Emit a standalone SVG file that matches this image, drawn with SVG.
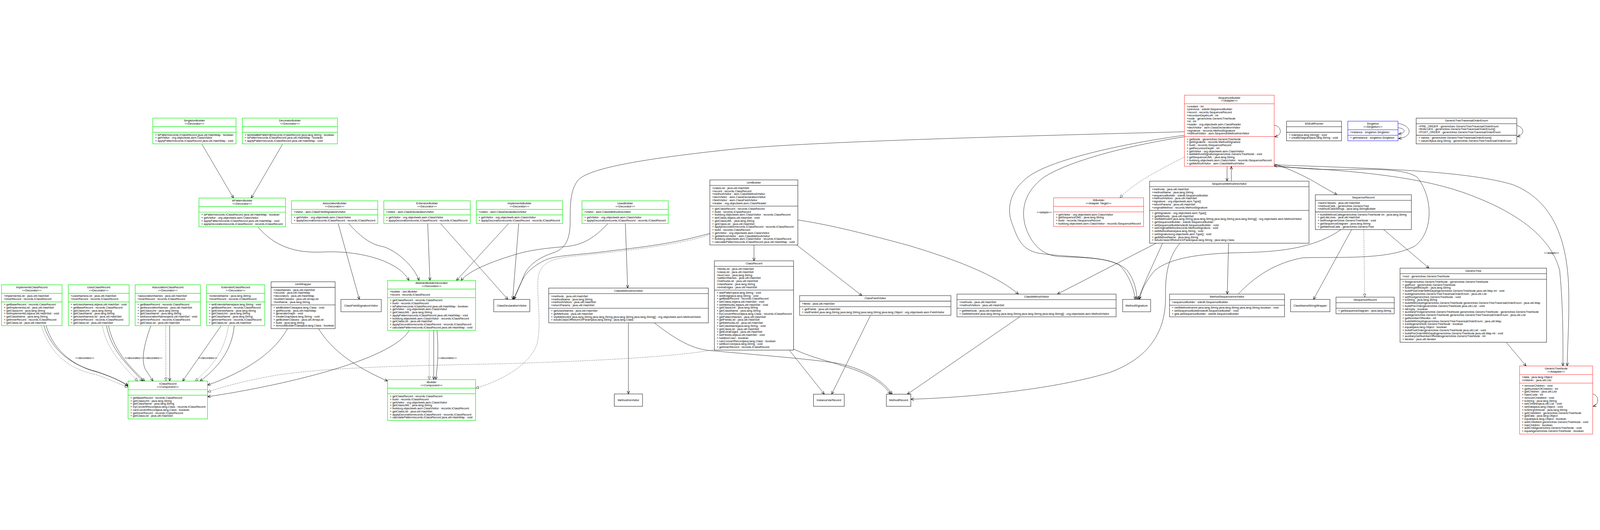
<svg xmlns="http://www.w3.org/2000/svg" width="6345" height="1357" viewBox="0 0 6345 1357">
<style>
svg{width:100vw;height:100vh}
.n rect{fill:#fff}
.g rect,.g line{stroke:#00ee00;stroke-width:1.8}
.r rect,.r line{stroke:#ff1a1a;stroke-width:1.4}
.b rect,.b line{stroke:#0000ff;stroke-width:1.4}
.k rect,.k line{stroke:#222;stroke-width:1.6}
text{font-family:"Liberation Sans",Arial,sans-serif;font-size:11.5px;fill:#000}
.c{text-anchor:middle}
#edges path{fill:none;stroke:#000;stroke-width:1.2}
#edges path.d{stroke-dasharray:3 4}
.lbl{font-size:11px}
</style>
<defs>
<marker id="vee" markerUnits="userSpaceOnUse" markerWidth="15" markerHeight="12" refX="13" refY="6" orient="auto"><path d="M1,1 L13,6 L1,11" fill="none" stroke="#000" stroke-width="1.6"/></marker>
<marker id="tri" markerUnits="userSpaceOnUse" markerWidth="15" markerHeight="12" refX="13" refY="6" orient="auto"><path d="M1,1 L13,6 L1,11 Z" fill="#fff" stroke="#000" stroke-width="1.1"/></marker>
</defs>
<rect x="0" y="0" width="6345" height="1357" fill="#fff"/>

<g id="edges">
<path marker-end="url(#vee)" d="M801,200 L926,413"/>
<path marker-end="url(#vee)" d="M1120,200 L996,413"/>
<path marker-end="url(#vee)" d="M1024,529 C1090,605 1170,632 1280,627 C1420,620 1580,660 1622,740"/>
<path marker-end="url(#vee)" d="M1341,514 L1425,815"/>
<path marker-end="url(#vee)" d="M1383,514 C1450,590 1490,600 1524,607 C1575,625 1640,680 1662,740"/>
<path marker-end="url(#vee)" d="M1696,514 L1705,740"/>
<path marker-end="url(#vee)" d="M1747,514 L2014,815"/>
<path marker-end="url(#vee)" d="M2017,514 L1810,740"/>
<path marker-end="url(#vee)" d="M2057,514 L2033,815"/>
<path marker-end="url(#vee)" d="M2411,514 C2350,580 2300,600 2247,605 C2160,612 2100,620 2050,635 C1950,665 1860,700 1828,740"/>
<path marker-end="url(#vee)" d="M2480,514 L2489,770"/>
<path marker-end="url(#vee)" d="M4697,150 C4000,168 3200,190 2900,220 C2600,252 2330,290 2290,345 C2258,390 2262,450 2261,513 C2260,580 2240,615 2194,630 C2120,655 2085,690 2070,740 L2036,815"/>
<path marker-end="url(#vee)" d="M2815,553 C2650,600 2500,612 2400,625 C2280,640 2200,640 2160,660 C2100,690 2080,720 2068,745 L2038,815"/>
<path class="d" marker-end="url(#tri)" d="M2815,557 C2700,600 2450,625 2290,642 C2180,652 2150,670 2135,720 C2125,800 2150,900 2130,990 C2100,1080 1980,1140 1886,1167"/>
<path marker-end="url(#vee)" d="M2990,599 L2990,662"/>
<path marker-end="url(#vee)" d="M3159,599 L3418,800"/>
<path marker-end="url(#vee)" d="M3164,500 C3300,520 3450,560 3600,600 C3800,660 3950,720 4039,794"/>
<path marker-end="url(#vee)" d="M3452,878 L3298,1191"/>
<path marker-end="url(#vee)" d="M3130,1016 L3269,1191"/>
<path class="d" marker-end="url(#tri)" d="M2833,1014 C2700,1040 2400,1058 2000,1070 C1600,1078 1300,1085 1100,1115 C950,1140 860,1170 823,1182"/>
<path marker-end="url(#vee)" d="M3147,1012 C3230,1050 3290,1060 3330,1075 C3420,1100 3495,1135 3531,1191"/>
<path marker-end="url(#vee)" d="M2595,908 C2700,990 2760,1015 2829,1019 C3000,1035 3200,1050 3320,1068 C3430,1090 3505,1140 3538,1191"/>
<path marker-end="url(#vee)" d="M2492,908 L2492,1190"/>
<path marker-end="url(#vee)" d="M4044,884 L3598,1191"/>
<path marker-end="url(#vee)" d="M4585,592 L4193,794"/>
<path marker-end="url(#vee)" d="M4679,592 C4640,640 4620,700 4622,800 C4625,950 4550,1050 4400,1105 C4150,1180 3800,1205 3612,1211"/>
<path marker-end="url(#vee)" d="M4610,592 C4590,640 4560,700 4535,760 L4514,815"/>
<path marker-end="url(#vee)" d="M5318,538 C5200,620 5050,627 4900,630 C4760,634 4640,650 4580,700 C4545,740 4525,780 4519,815"/>
<path marker-end="url(#vee)" d="M4697,164 C4500,190 4200,250 4090,320 C4000,380 3990,460 4016,520 C4040,590 4060,615 4110,630 C4220,650 4380,640 4440,680 C4480,720 4498,780 4502,815"/>
<path marker-end="url(#vee)" d="M4697,170 C4500,200 4250,260 4140,330 C4060,390 4050,460 4065,520 C4085,590 4130,640 4200,645 C4320,650 4420,650 4470,700 C4500,740 4507,780 4509,815"/>
<path class="d" marker-end="url(#tri)" d="M4697,250 C4600,300 4500,350 4441,412"/>
<path marker-end="url(#vee)" d="M4866,287 L4866,346"/>
<path marker-end="url(#vee)" d="M4883,346 L4883,287"/>
<path marker-end="url(#vee)" d="M4872,592 L4867,794"/>
<path marker-end="url(#vee)" d="M5053,277 C5120,300 5184,330 5240,365 L5302,400"/>
<path marker-end="url(#vee)" d="M4910,794 C4980,720 5060,670 5165,650 C5300,645 5500,660 5606,606 C5680,560 5690,420 5620,330 C5560,290 5400,300 5280,300 C5200,300 5100,290 5053,284"/>
<path marker-end="url(#vee)" d="M5053,288 C5300,300 5600,320 5800,390 C6000,460 6150,560 6185,700 C6200,850 6198,1000 6198,1079"/>
<path marker-end="url(#vee)" d="M5053,281 C5400,295 5800,300 6000,360 C6150,420 6210,560 6220,750 C6225,900 6215,1000 6215,1079"/>
<path marker-end="url(#vee)" d="M5487,538 L5667,691"/>
<path class="d" marker-end="url(#tri)" d="M5408,538 L5412,806"/>
<path marker-end="url(#vee)" d="M5360,538 L5209,815"/>
<path marker-end="url(#vee)" d="M5973,985 L6052,1079"/>
<path marker-end="url(#vee)" d="M5053,124 C5080,128 5090,162 5055,170"/>
<path marker-end="url(#vee)" d="M5544,117 C5600,125 5605,170 5546,177"/>
<path marker-end="url(#vee)" d="M5544,134 C5575,137 5578,156 5546,159"/>
<path marker-end="url(#vee)" d="M6015,125 C6045,132 6048,162 6017,169"/>
<path marker-end="url(#vee)" d="M6316,1190 C6342,1195 6343,1232 6318,1239"/>
<path class="d" marker-end="url(#tri)" d="M163,919 C200,1030 270,1090 380,1113 C430,1130 470,1150 508,1163"/>
<path marker-end="url(#vee)" d="M174,919 C210,1030 300,1080 380,1100 C440,1120 480,1140 508,1156"/>
<path marker-end="url(#vee)" d="M183,919 C215,1030 310,1085 385,1103 C445,1122 485,1142 508,1159"/>
<path class="d" marker-end="url(#tri)" d="M406,919 C420,1000 470,1060 546,1139"/>
<path marker-end="url(#vee)" d="M422,919 C440,1010 490,1060 566,1139"/>
<path marker-end="url(#vee)" d="M430,919 C450,1010 500,1070 574,1139"/>
<path marker-end="url(#vee)" d="M598,919 C570,1000 560,1050 575,1090 L607,1139"/>
<path class="d" marker-end="url(#tri)" d="M657,919 L658,1139"/>
<path marker-end="url(#vee)" d="M673,919 L673,1139"/>
<path marker-end="url(#vee)" d="M877,919 L724,1139"/>
<path class="d" marker-end="url(#tri)" d="M906,919 C890,1030 830,1090 774,1139"/>
<path marker-end="url(#vee)" d="M929,919 C920,1020 860,1090 793,1139"/>
<path marker-end="url(#vee)" d="M1140,931 C1080,1040 950,1110 823,1155"/>
<path marker-end="url(#vee)" d="M1263,931 C1330,1040 1450,1100 1537,1139"/>
<path marker-end="url(#vee)" d="M1623,938 C1550,1060 1100,1160 823,1201"/>
<path class="d" marker-end="url(#tri)" d="M1702,938 L1702,1133"/>
<path marker-end="url(#vee)" d="M1720,938 L1720,1133"/>
<path marker-end="url(#vee)" d="M1733,938 C1740,1020 1735,1080 1728,1133"/>
<text class="lbl" x="299" y="1051">&lt;&lt;decorates&gt;&gt;</text>
<text class="lbl" x="494" y="1051">&lt;&lt;decorates&gt;&gt;</text>
<text class="lbl" x="569" y="1051">&lt;&lt;decorates&gt;&gt;</text>
<text class="lbl" x="787" y="1051">&lt;&lt;decorates&gt;&gt;</text>
<text class="lbl" x="1737" y="1051">&lt;&lt;decorates&gt;&gt;</text>
<text class="lbl c" x="4141" y="473">&lt;&lt;adapts&gt;&gt;</text>
<text class="lbl c" x="6153" y="634">&lt;&lt;adapts&gt;&gt;</text>
</g>

<g id="SingletonBuilder" class="n g">
<rect x="606" y="96" width="330" height="102"/><line x1="606" y1="130" x2="936" y2="130"/><line x1="606" y1="152" x2="936" y2="152"/>
<text class="c" x="771" y="110">SingletonBuilder<tspan x="771" dy="12">&lt;&lt;Decorator&gt;&gt;</tspan></text>
<text x="615" y="166">+ isPatternrecords.IClassRecord java.util.HashMap : boolean<tspan x="615" dy="12">+ getVisitor : org.objectweb.asm.ClassVisitor</tspan><tspan x="615" dy="12">+ applyPatternrecords.IClassRecord java.util.HashMap : void</tspan></text>
</g>
<g id="DecoratorBuilder" class="n g">
<rect x="961" y="96" width="377" height="102"/><line x1="961" y1="130" x2="1338" y2="130"/><line x1="961" y1="152" x2="1338" y2="152"/>
<text class="c" x="1149.5" y="110">DecoratorBuilder<tspan x="1149.5" dy="12">&lt;&lt;Decorator&gt;&gt;</tspan></text>
<text x="970" y="166">+ lambda$isPattern$0records.IClassRecord java.lang.String : boolean<tspan x="970" dy="12">+ isPatternrecords.IClassRecord java.util.HashMap : boolean</tspan><tspan x="970" dy="12">+ applyPatternrecords.IClassRecord java.util.HashMap : void</tspan></text>
</g>
<g id="APatternBuilder" class="n g">
<rect x="789" y="413" width="343" height="114"/><line x1="789" y1="447" x2="1132" y2="447"/><line x1="789" y1="469" x2="1132" y2="469"/>
<text class="c" x="960.5" y="427">APatternBuilder<tspan x="960.5" dy="12">&lt;&lt;Decorator&gt;&gt;</tspan></text>
<text x="798" y="483">+ isPatternrecords.IClassRecord java.util.HashMap : boolean<tspan x="798" dy="12">+ getVisitor : org.objectweb.asm.ClassVisitor</tspan><tspan x="798" dy="12">+ applyPatternrecords.IClassRecord java.util.HashMap : void</tspan><tspan x="798" dy="12">+ applyDecorationrecords.IClassRecord : records.IClassRecord</tspan></text>
</g>
<g id="AssociationBuilder" class="n g">
<rect x="1156" y="424" width="342" height="90"/><line x1="1156" y1="458" x2="1498" y2="458"/><line x1="1156" y1="480" x2="1498" y2="480"/>
<text class="c" x="1327" y="438">AssociationBuilder<tspan x="1327" dy="12">&lt;&lt;Decorator&gt;&gt;</tspan></text>
<text x="1165" y="472">+visitor : asm.ClassFieldSignatureVisitor</text>
<text x="1165" y="494">+ getVisitor : org.objectweb.asm.ClassVisitor<tspan x="1165" dy="12">+ applyDecorationrecords.IClassRecord : records.IClassRecord</tspan></text>
</g>
<g id="ExtensionBuilder" class="n g">
<rect x="1522" y="424" width="343" height="90"/><line x1="1522" y1="458" x2="1865" y2="458"/><line x1="1522" y1="480" x2="1865" y2="480"/>
<text class="c" x="1693.5" y="438">ExtensionBuilder<tspan x="1693.5" dy="12">&lt;&lt;Decorator&gt;&gt;</tspan></text>
<text x="1531" y="472">+visitor : asm.ClassDeclarationVisitor</text>
<text x="1531" y="494">+ getVisitor : org.objectweb.asm.ClassVisitor<tspan x="1531" dy="12">+ applyDecorationrecords.IClassRecord : records.IClassRecord</tspan></text>
</g>
<g id="ImplementsBuilder" class="n g">
<rect x="1889" y="424" width="342" height="90"/><line x1="1889" y1="458" x2="2231" y2="458"/><line x1="1889" y1="480" x2="2231" y2="480"/>
<text class="c" x="2060" y="438">ImplementsBuilder<tspan x="2060" dy="12">&lt;&lt;Decorator&gt;&gt;</tspan></text>
<text x="1898" y="472">+visitor : asm.ClassDeclarationVisitor</text>
<text x="1898" y="494">+ getVisitor : org.objectweb.asm.ClassVisitor<tspan x="1898" dy="12">+ applyDecorationrecords.IClassRecord : records.IClassRecord</tspan></text>
</g>
<g id="UsesBuilder" class="n g">
<rect x="2308" y="424" width="342" height="90"/><line x1="2308" y1="458" x2="2650" y2="458"/><line x1="2308" y1="480" x2="2650" y2="480"/>
<text class="c" x="2479" y="438">UsesBuilder<tspan x="2479" dy="12">&lt;&lt;Decorator&gt;&gt;</tspan></text>
<text x="2317" y="472">+visitor : asm.ClassMethodInsVisitor</text>
<text x="2317" y="494">+ getVisitor : org.objectweb.asm.ClassVisitor<tspan x="2317" dy="12">+ applyDecorationrecords.IClassRecord : records.IClassRecord</tspan></text>
</g>

<g id="ImplementsClassRecord" class="n g">
<rect x="6" y="757" width="240" height="162"/><line x1="6" y1="791" x2="246" y2="791"/><line x1="6" y1="825" x2="246" y2="825"/>
<text class="c" x="126" y="771">ImplementsClassRecord<tspan x="126" dy="12">&lt;&lt;Decorator&gt;&gt;</tspan></text>
<text x="15" y="805">+implementsList : java.util.HashSet<tspan x="15" dy="12">+innerRecord : records.IClassRecord</tspan></text>
<text x="15" y="839">+ getBaseRecord : records.ClassRecord<tspan x="15" dy="12">+ getImplementsList : java.util.HashSet</tspan><tspan x="15" dy="12">+ getClassUml : java.lang.String</tspan><tspan x="15" dy="12">+ setImplementsListjava.util.HashSet : void</tspan><tspan x="15" dy="12">+ getClassName : java.lang.String</tspan><tspan x="15" dy="12">+ getInnerRecord : records.IClassRecord</tspan><tspan x="15" dy="12">+ getClassList : java.util.HashSet</tspan></text>
</g>
<g id="UsesClassRecord" class="n g">
<rect x="271" y="757" width="241" height="162"/><line x1="271" y1="791" x2="512" y2="791"/><line x1="271" y1="825" x2="512" y2="825"/>
<text class="c" x="391.5" y="771">UsesClassRecord<tspan x="391.5" dy="12">&lt;&lt;Decorator&gt;&gt;</tspan></text>
<text x="280" y="805">+usesNamesList : java.util.HashSet<tspan x="280" dy="12">+innerRecord : records.IClassRecord</tspan></text>
<text x="280" y="839">+ setUsesNamesListjava.util.HashSet : void<tspan x="280" dy="12">+ getBaseRecord : records.ClassRecord</tspan><tspan x="280" dy="12">+ getClassUml : java.lang.String</tspan><tspan x="280" dy="12">+ getClassName : java.lang.String</tspan><tspan x="280" dy="12">+ getUsesNamesList : java.util.HashSet</tspan><tspan x="280" dy="12">+ getInnerRecord : records.IClassRecord</tspan><tspan x="280" dy="12">+ getClassList : java.util.HashSet</tspan></text>
</g>
<g id="AssociationClassRecord" class="n g">
<rect x="536" y="757" width="259" height="162"/><line x1="536" y1="791" x2="795" y2="791"/><line x1="536" y1="825" x2="795" y2="825"/>
<text class="c" x="665.5" y="771">AssociationClassRecord<tspan x="665.5" dy="12">&lt;&lt;Decorator&gt;&gt;</tspan></text>
<text x="545" y="805">+associationNames : java.util.HashSet<tspan x="545" dy="12">+innerRecord : records.IClassRecord</tspan></text>
<text x="545" y="839">+ getBaseRecord : records.ClassRecord<tspan x="545" dy="12">+ getAssociationNames : java.util.HashSet</tspan><tspan x="545" dy="12">+ getClassUml : java.lang.String</tspan><tspan x="545" dy="12">+ getClassName : java.lang.String</tspan><tspan x="545" dy="12">+ setAssociationNamesjava.util.HashSet : void</tspan><tspan x="545" dy="12">+ getInnerRecord : records.IClassRecord</tspan><tspan x="545" dy="12">+ getClassList : java.util.HashSet</tspan></text>
</g>
<g id="ExtendedClassRecord" class="n g">
<rect x="819" y="757" width="231" height="162"/><line x1="819" y1="791" x2="1050" y2="791"/><line x1="819" y1="825" x2="1050" y2="825"/>
<text class="c" x="934.5" y="771">ExtendedClassRecord<tspan x="934.5" dy="12">&lt;&lt;Decorator&gt;&gt;</tspan></text>
<text x="828" y="805">+extendsName : java.lang.String<tspan x="828" dy="12">+innerRecord : records.IClassRecord</tspan></text>
<text x="828" y="839">+ setExtendsNamejava.lang.String : void<tspan x="828" dy="12">+ getBaseRecord : records.ClassRecord</tspan><tspan x="828" dy="12">+ getExtendsName : java.lang.String</tspan><tspan x="828" dy="12">+ getClassUml : java.lang.String</tspan><tspan x="828" dy="12">+ getClassName : java.lang.String</tspan><tspan x="828" dy="12">+ getInnerRecord : records.IClassRecord</tspan><tspan x="828" dy="12">+ getClassList : java.util.HashSet</tspan></text>
</g>
<g id="UmlWrapper" class="n k">
<rect x="1075" y="745" width="254" height="186"/><line x1="1075" y1="767" x2="1329" y2="767"/><line x1="1075" y1="837" x2="1329" y2="837"/>
<text class="c" x="1202" y="759">UmlWrapper</text>
<text x="1084" y="781">+classNames : java.util.HashSet<tspan x="1084" dy="12">+records : java.util.HashMap</tspan><tspan x="1084" dy="12">+decorators : java.util.HashMap</tspan><tspan x="1084" dy="12">+builderClasses : java.util.ArrayList</tspan><tspan x="1084" dy="12">+fontName : java.lang.String</tspan></text>
<text x="1084" y="851">+ addBuilderClassjava.lang.Class : void<tspan x="1084" dy="12">+ getRecords : java.util.HashMap</tspan><tspan x="1084" dy="12">+ generateGraph : void</tspan><tspan x="1084" dy="12">+ createGraphjava.lang.String : void</tspan><tspan x="1084" dy="12">+ getBuilderClasses : java.util.ArrayList</tspan><tspan x="1084" dy="12">+ build : java.lang.String</tspan><tspan x="1084" dy="12">+ removeBuilderClassjava.lang.Class : boolean</tspan></text>
</g>
<g id="ClassFieldSignatureVisitor" class="n k">
<rect x="1352" y="815" width="160" height="49"/><text class="c" x="1432" y="844">ClassFieldSignatureVisitor</text>
</g>
<g id="AbstractBuilderDecorator" class="n g">
<rect x="1537" y="740" width="349" height="198"/><line x1="1537" y1="774" x2="1886" y2="774"/><line x1="1537" y1="808" x2="1886" y2="808"/>
<text class="c" x="1711.5" y="754">AbstractBuilderDecorator<tspan x="1711.5" dy="12">&lt;&lt;Decorator&gt;&gt;</tspan></text>
<text x="1546" y="788">+builder : dot.IBuilder<tspan x="1546" dy="12">+record : records.IClassRecord</tspan></text>
<text x="1546" y="822">+ getClassRecord : records.ClassRecord<tspan x="1546" dy="12">+ build : records.IClassRecord</tspan><tspan x="1546" dy="12">+ isPatternrecords.IClassRecord java.util.HashMap : boolean</tspan><tspan x="1546" dy="12">+ getVisitor : org.objectweb.asm.ClassVisitor</tspan><tspan x="1546" dy="12">+ getClassUML : java.lang.String</tspan><tspan x="1546" dy="12">+ applyPatternrecords.IClassRecord java.util.HashMap : void</tspan><tspan x="1546" dy="12">+ buildorg.objectweb.asm.ClassVisitor : records.IClassRecord</tspan><tspan x="1546" dy="12">+ getClassList : java.util.HashSet</tspan><tspan x="1546" dy="12">+ applyDecorationrecords.IClassRecord : records.IClassRecord</tspan><tspan x="1546" dy="12">+ calculatePatternrecords.IClassRecord java.util.HashMap : void</tspan></text>
</g>
<g id="IBuilder" class="n g">
<rect x="1537" y="1133" width="349" height="162"/><line x1="1537" y1="1167" x2="1886" y2="1167"/><line x1="1537" y1="1189" x2="1886" y2="1189"/>
<text class="c" x="1711.5" y="1147">IBuilder<tspan x="1711.5" dy="12">&lt;&lt;Component&gt;&gt;</tspan></text>
<text x="1546" y="1203">+ getClassRecord : records.ClassRecord<tspan x="1546" dy="12">+ build : records.IClassRecord</tspan><tspan x="1546" dy="12">+ getVisitor : org.objectweb.asm.ClassVisitor</tspan><tspan x="1546" dy="12">+ getClassUML : java.lang.String</tspan><tspan x="1546" dy="12">+ buildorg.objectweb.asm.ClassVisitor : records.IClassRecord</tspan><tspan x="1546" dy="12">+ getClassList : java.util.HashSet</tspan><tspan x="1546" dy="12">+ applyDecorationrecords.IClassRecord : records.IClassRecord</tspan><tspan x="1546" dy="12">+ calculatePatternrecords.IClassRecord java.util.HashMap : void</tspan></text>
</g>
<g id="ClassDeclarationVisitor" class="n k">
<rect x="1958" y="815" width="143" height="49"/><text class="c" x="2029.5" y="844">ClassDeclarationVisitor</text>
</g>
<g id="IClassRecord" class="n g">
<rect x="508" y="1139" width="315" height="150"/><line x1="508" y1="1173" x2="823" y2="1173"/><line x1="508" y1="1195" x2="823" y2="1195"/>
<text class="c" x="665.5" y="1153">IClassRecord<tspan x="665.5" dy="12">&lt;&lt;Component&gt;&gt;</tspan></text>
<text x="517" y="1209">+ getBaseRecord : records.ClassRecord<tspan x="517" dy="12">+ getClassUml : java.lang.String</tspan><tspan x="517" dy="12">+ getClassName : java.lang.String</tspan><tspan x="517" dy="12">+ tryConvertRecordjava.lang.Class : records.IClassRecord</tspan><tspan x="517" dy="12">+ canConvertRecordjava.lang.Class : boolean</tspan><tspan x="517" dy="12">+ getInnerRecord : records.IClassRecord</tspan><tspan x="517" dy="12">+ getClassList : java.util.HashSet</tspan></text>
</g>
<g id="ClassMethodInsVisitor" class="n k">
<rect x="2176" y="770" width="633" height="138"/><line x1="2176" y1="792" x2="2809" y2="792"/><line x1="2176" y1="850" x2="2809" y2="850"/>
<text class="c" x="2492.5" y="784">ClassMethodInsVisitor</text>
<text x="2185" y="806">+methods : java.util.HashSet<tspan x="2185" dy="12">+methodName : java.lang.String</tspan><tspan x="2185" dy="12">+methodVisitors : java.util.HashSet</tspan><tspan x="2185" dy="12">+returnParams : java.util.HashSet</tspan></text>
<text x="2185" y="864">+ getUsesNames : java.util.HashSet<tspan x="2185" dy="12">+ getMethods : java.util.HashSet</tspan><tspan x="2185" dy="12">+ visitMethodint java.lang.String java.lang.String java.lang.String java.lang.String[] : org.objectweb.asm.MethodVisitor</tspan><tspan x="2185" dy="12">+ isSubClassOfReturnOrParamjava.lang.String : java.lang.Class</tspan></text>
</g>
<g id="MethodInsVisitor" class="n k">
<rect x="2436" y="1190" width="112" height="49"/><text class="c" x="2492" y="1219">MethodInsVisitor</text>
</g>
<g id="UmlBuilder" class="n k">
<rect x="2815" y="341" width="349" height="258"/><line x1="2815" y1="363" x2="3164" y2="363"/><line x1="2815" y1="445" x2="3164" y2="445"/>
<text class="c" x="2989.5" y="355">UmlBuilder</text>
<text x="2824" y="377">+classList : java.util.HashSet<tspan x="2824" dy="12">+record : records.ClassRecord</tspan><tspan x="2824" dy="12">+methodVisitor : asm.ClassMethodVisitor</tspan><tspan x="2824" dy="12">+declVisitor : asm.ClassDeclarationVisitor</tspan><tspan x="2824" dy="12">+fieldVisitor : asm.ClassFieldVisitor</tspan><tspan x="2824" dy="12">+reader : org.objectweb.asm.ClassReader</tspan></text>
<text x="2824" y="459">+ getClassRecord : records.ClassRecord<tspan x="2824" dy="12">+ build : records.IClassRecord</tspan><tspan x="2824" dy="12">+ buildorg.objectweb.asm.ClassVisitor : records.ClassRecord</tspan><tspan x="2824" dy="12">+ setClassListjava.util.HashSet : void</tspan><tspan x="2824" dy="12">+ getClassUML : java.lang.String</tspan><tspan x="2824" dy="12">+ getClassList : java.util.HashSet</tspan><tspan x="2824" dy="12">+ applyDecorationrecords.IClassRecord : records.IClassRecord</tspan><tspan x="2824" dy="12">+ build : records.ClassRecord</tspan><tspan x="2824" dy="12">+ getVisitor : org.objectweb.asm.ClassVisitor</tspan><tspan x="2824" dy="12">+ getMethodVisitor : asm.ClassMethodVisitor</tspan><tspan x="2824" dy="12">+ buildorg.objectweb.asm.ClassVisitor : records.IClassRecord</tspan><tspan x="2824" dy="12">+ calculatePatternrecords.IClassRecord java.util.HashMap : void</tspan></text>
</g>
<g id="ClassRecord" class="n k">
<rect x="2833" y="662" width="314" height="354"/><line x1="2833" y1="684" x2="3147" y2="684"/><line x1="2833" y1="778" x2="3147" y2="778"/>
<text class="c" x="2990" y="676">ClassRecord</text>
<text x="2842" y="698">+fieldsList : java.util.HashSet<tspan x="2842" dy="12">+classList : java.util.HashSet</tspan><tspan x="2842" dy="12">+boxColor : java.lang.String</tspan><tspan x="2842" dy="12">+patternNames : java.util.HashSet</tspan><tspan x="2842" dy="12">+methodsList : java.util.HashSet</tspan><tspan x="2842" dy="12">+className : java.lang.String</tspan><tspan x="2842" dy="12">+extraEdges : java.util.HashSet</tspan></text>
<text x="2842" y="792">+ addPatternjava.lang.String : void<tspan x="2842" dy="12">+ addEdgejava.lang.String : void</tspan><tspan x="2842" dy="12">+ getBaseRecord : records.ClassRecord</tspan><tspan x="2842" dy="12">+ setClassListjava.util.HashSet : void</tspan><tspan x="2842" dy="12">+ setMethodsListjava.util.HashSet : void</tspan><tspan x="2842" dy="12">+ getClassUml : java.lang.String</tspan><tspan x="2842" dy="12">+ getClassName : java.lang.String</tspan><tspan x="2842" dy="12">+ tryConvertRecordjava.lang.Class : records.IClassRecord</tspan><tspan x="2842" dy="12">+ getPatternNames : java.util.HashSet</tspan><tspan x="2842" dy="12">+ getFieldsList : java.util.HashSet</tspan><tspan x="2842" dy="12">+ getMethodsList : java.util.HashSet</tspan><tspan x="2842" dy="12">+ setClassNamejava.lang.String : void</tspan><tspan x="2842" dy="12">+ getClassList : java.util.HashSet</tspan><tspan x="2842" dy="12">+ getExtraEdges : java.util.HashSet</tspan><tspan x="2842" dy="12">+ setFieldsListjava.util.HashSet : void</tspan><tspan x="2842" dy="12">+ hasBoxColor : boolean</tspan><tspan x="2842" dy="12">+ canConvertRecordjava.lang.Class : boolean</tspan><tspan x="2842" dy="12">+ setBoxColorjava.lang.String : void</tspan><tspan x="2842" dy="12">+ getInnerRecord : records.IClassRecord</tspan></text>
</g>
<g id="ClassFieldVisitor" class="n k">
<rect x="3171" y="800" width="600" height="78"/><line x1="3171" y1="822" x2="3771" y2="822"/><line x1="3171" y1="844" x2="3771" y2="844"/>
<text class="c" x="3471" y="814">ClassFieldVisitor</text>
<text x="3180" y="836">+fields : java.util.HashSet</text>
<text x="3180" y="858">+ getFields : java.util.HashSet<tspan x="3180" dy="12">+ visitFieldint java.lang.String java.lang.String java.lang.String java.lang.Object : org.objectweb.asm.FieldVisitor</tspan></text>
</g>
<g id="InstanceVarRecord" class="n k">
<rect x="3226" y="1191" width="122" height="48"/><text class="c" x="3287" y="1219">InstanceVarRecord</text>
</g>
<g id="ClassMethodVisitor" class="n k">
<rect x="3795" y="794" width="631" height="90"/><line x1="3795" y1="816" x2="4426" y2="816"/><line x1="3795" y1="850" x2="4426" y2="850"/>
<text class="c" x="4110.5" y="808">ClassMethodVisitor</text>
<text x="3804" y="830">+methods : java.util.HashSet<tspan x="3804" dy="12">+methodVisitors : java.util.HashSet</tspan></text>
<text x="3804" y="864">+ getMethods : java.util.HashSet<tspan x="3804" dy="12">+ visitMethodint java.lang.String java.lang.String java.lang.String java.lang.String[] : org.objectweb.asm.MethodVisitor</tspan></text>
</g>
<g id="MethodRecord" class="n k">
<rect x="3515" y="1191" width="97" height="48"/><text class="c" x="3563.5" y="1219">MethodRecord</text>
</g>
<g id="ISBuilder" class="n r">
<rect x="4178" y="412" width="357" height="114"/><line x1="4178" y1="446" x2="4535" y2="446"/><line x1="4178" y1="468" x2="4535" y2="468"/>
<text class="c" x="4356.5" y="426">ISBuilder<tspan x="4356.5" dy="12">&lt;&lt;Adapter Target&gt;&gt;</tspan></text>
<text x="4187" y="482">+ getVisitor : org.objectweb.asm.ClassVisitor<tspan x="4187" dy="12">+ getSequenceUML : java.lang.String</tspan><tspan x="4187" dy="12">+ build : records.ISequenceRecord</tspan><tspan x="4187" dy="12">+ buildorg.objectweb.asm.ClassVisitor : records.ISequenceRecord</tspan></text>
</g>
<g id="SequenceBuilder" class="n r">
<rect x="4697" y="5" width="356" height="282"/><line x1="4697" y1="39" x2="5053" y2="39"/><line x1="4697" y1="169" x2="5053" y2="169"/>
<text class="c" x="4875" y="19">SequenceBuilder<tspan x="4875" dy="12">&lt;&lt;Adapter&gt;&gt;</tspan></text>
<text x="4706" y="53">+created : int<tspan x="4706" dy="12">+previous : sdedit.SequenceBuilder</tspan><tspan x="4706" dy="12">+record : records.SequenceRecord</tspan><tspan x="4706" dy="12">+recursionDepthLeft : int</tspan><tspan x="4706" dy="12">+node : generictree.GenericTreeNode</tspan><tspan x="4706" dy="12">+id : int</tspan><tspan x="4706" dy="12">+reader : org.objectweb.asm.ClassReader</tspan><tspan x="4706" dy="12">+declVisitor : asm.ClassDeclarationVisitor</tspan><tspan x="4706" dy="12">+signature : records.MethodSignature</tspan><tspan x="4706" dy="12">+methodVisitor : asm.SequenceMethodInsVisitor</tspan></text>
<text x="4706" y="183">+ getNode : generictree.GenericTreeNode<tspan x="4706" dy="12">+ getSignature : records.MethodSignature</tspan><tspan x="4706" dy="12">+ build : records.ISequenceRecord</tspan><tspan x="4706" dy="12">+ getRecursionDepth : int</tspan><tspan x="4706" dy="12">+ getVisitor : org.objectweb.asm.ClassVisitor</tspan><tspan x="4706" dy="12">+ addMethodSignaturegenerictree.GenericTreeNode : void</tspan><tspan x="4706" dy="12">+ getSequenceUML : java.lang.String</tspan><tspan x="4706" dy="12">+ buildorg.objectweb.asm.ClassVisitor : records.ISequenceRecord</tspan><tspan x="4706" dy="12">+ getMethodVisitor : asm.ClassMethodVisitor</tspan></text>
</g>
<g id="SDEditRunner" class="n k">
<rect x="5102" y="108" width="218" height="78"/><line x1="5102" y1="130" x2="5320" y2="130"/><line x1="5102" y1="152" x2="5320" y2="152"/>
<text class="c" x="5211" y="122">SDEditRunner</text>
<text x="5111" y="166">+ mainjava.lang.String[] : void<tspan x="5111" dy="12">+ createDiagramjava.lang.String : void</tspan></text>
</g>
<g id="Singleton" class="n b">
<rect x="5345" y="108" width="199" height="78"/><line x1="5345" y1="142" x2="5544" y2="142"/><line x1="5345" y1="164" x2="5544" y2="164"/>
<text class="c" x="5444.5" y="122">Singleton<tspan x="5444.5" dy="12">&lt;&lt;Singleton&gt;&gt;</tspan></text>
<text x="5354" y="156">+instance : singleton.Singleton</text>
<text x="5354" y="178">+ getInstance : singleton.Singleton</text>
</g>
<g id="GenericTreeTraversalOrderEnum" class="n k">
<rect x="5616" y="96" width="399" height="102"/><line x1="5616" y1="118" x2="6015" y2="118"/><line x1="5616" y1="164" x2="6015" y2="164"/>
<text class="c" x="5815.5" y="110">GenericTreeTraversalOrderEnum</text>
<text x="5625" y="132">+PRE_ORDER : generictree.GenericTreeTraversalOrderEnum<tspan x="5625" dy="12">+$VALUES : generictree.GenericTreeTraversalOrderEnum[]</tspan><tspan x="5625" dy="12">+POST_ORDER : generictree.GenericTreeTraversalOrderEnum</tspan></text>
<text x="5625" y="178">+ values : generictree.GenericTreeTraversalOrderEnum[]<tspan x="5625" dy="12">+ valueOfjava.lang.String : generictree.GenericTreeTraversalOrderEnum</tspan></text>
</g>
<g id="SequenceMethodInsVisitor" class="n k">
<rect x="4559" y="346" width="632" height="246"/><line x1="4559" y1="368" x2="5191" y2="368"/><line x1="4559" y1="462" x2="5191" y2="462"/>
<text class="c" x="4875" y="360">SequenceMethodInsVisitor</text>
<text x="4568" y="382">+methods : java.util.HashSet<tspan x="4568" dy="12">+methodName : java.lang.String</tspan><tspan x="4568" dy="12">+sequenceBuilder : sdedit.SequenceBuilder</tspan><tspan x="4568" dy="12">+methodVisitors : java.util.HashSet</tspan><tspan x="4568" dy="12">+signature : org.objectweb.asm.Type[]</tspan><tspan x="4568" dy="12">+returnParams : java.util.HashSet</tspan><tspan x="4568" dy="12">+originalMethod : records.MethodSignature</tspan></text>
<text x="4568" y="476">+ getSignature : org.objectweb.asm.Type[]<tspan x="4568" dy="12">+ getMethods : java.util.HashSet</tspan><tspan x="4568" dy="12">+ visitMethodint java.lang.String java.lang.String java.lang.String java.lang.String[] : org.objectweb.asm.MethodVisitor</tspan><tspan x="4568" dy="12">+ getSequenceBuilder : sdedit.SequenceBuilder</tspan><tspan x="4568" dy="12">+ setSequenceBuildersdedit.SequenceBuilder : void</tspan><tspan x="4568" dy="12">+ setOriginalMethodrecords.MethodSignature : void</tspan><tspan x="4568" dy="12">+ setMethodNamejava.lang.String : void</tspan><tspan x="4568" dy="12">+ setSignatureorg.objectweb.asm.Type[] : void</tspan><tspan x="4568" dy="12">+ getMethodName : java.lang.String</tspan><tspan x="4568" dy="12">+ isSubClassOfReturnOrParamjava.lang.String : java.lang.Class</tspan></text>
</g>
<g id="SequenceRecord" class="n k">
<rect x="5216" y="400" width="381" height="138"/><line x1="5216" y1="422" x2="5597" y2="422"/><line x1="5216" y1="468" x2="5597" y2="468"/>
<text class="c" x="5406.5" y="414">SequenceRecord</text>
<text x="5225" y="436">+seenClasses : java.util.HashSet<tspan x="5225" dy="12">+methodCalls : generictree.GenericTree</tspan><tspan x="5225" dy="12">+methodCallsStrings : java.lang.StringBuilder</tspan></text>
<text x="5225" y="482">+ buildMethodCallsgenerictree.GenericTreeNode int : java.lang.String<tspan x="5225" dy="12">+ getLifeLines : java.util.HashSet</tspan><tspan x="5225" dy="12">+ setRootgenerictree.GenericTreeNode : void</tspan><tspan x="5225" dy="12">+ getSequenceDiagram : java.lang.String</tspan><tspan x="5225" dy="12">+ getMethodCalls : generictree.GenericTree</tspan></text>
</g>
<g id="MethodSignature" class="n k">
<rect x="4452" y="815" width="111" height="49"/><text class="c" x="4507.5" y="844">MethodSignature</text>
</g>
<g id="MethodSequenceInsVisitor" class="n k">
<rect x="4638" y="794" width="456" height="90"/><line x1="4638" y1="816" x2="5094" y2="816"/><line x1="4638" y1="838" x2="5094" y2="838"/>
<text class="c" x="4866" y="808">MethodSequenceInsVisitor</text>
<text x="4647" y="830">+sequenceBuilder : sdedit.SequenceBuilder</text>
<text x="4647" y="852">+ visitMethodInsnint java.lang.String java.lang.String java.lang.String boolean : void<tspan x="4647" dy="12">+ setSequenceBuildersdedit.SequenceBuilder : void</tspan><tspan x="4647" dy="12">+ getLastSequenceBuilder : sdedit.SequenceBuilder</tspan></text>
</g>
<g id="ClassNameStringWrapper" class="n k">
<rect x="5118" y="815" width="156" height="49"/><text class="c" x="5196" y="844">ClassNameStringWrapper</text>
</g>
<g id="ISequenceRecord" class="n k">
<rect x="5298" y="806" width="231" height="66"/><line x1="5298" y1="828" x2="5529" y2="828"/><line x1="5298" y1="850" x2="5529" y2="850"/>
<text class="c" x="5413.5" y="820">ISequenceRecord</text>
<text x="5307" y="864">+ getSequenceDiagram : java.lang.String</text>
</g>
<g id="GenericTree" class="n k">
<rect x="5552" y="691" width="581" height="294"/><line x1="5552" y1="713" x2="6133" y2="713"/><line x1="5552" y1="735" x2="6133" y2="735"/>
<text class="c" x="5842.5" y="705">GenericTree</text>
<text x="5561" y="727">+root : generictree.GenericTreeNode</text>
<text x="5561" y="749">+ findgenerictree.GenericTreeNode : generictree.GenericTreeNode<tspan x="5561" dy="12">+ getRoot : generictree.GenericTreeNode</tspan><tspan x="5561" dy="12">+ toStringWithDepth : java.lang.String</tspan><tspan x="5561" dy="12">+ buildPostOrderWithDepthgenerictree.GenericTreeNode java.util.Map int : void</tspan><tspan x="5561" dy="12">+ buildgenerictree.GenericTreeTraversalOrderEnum : java.util.List</tspan><tspan x="5561" dy="12">+ setRootgenerictree.GenericTreeNode : void</tspan><tspan x="5561" dy="12">+ toString : java.lang.String</tspan><tspan x="5561" dy="12">+ buildWithDepthgenerictree.GenericTreeNode generictree.GenericTreeTraversalOrderEnum : java.util.Map</tspan><tspan x="5561" dy="12">+ buildPreOrdergenerictree.GenericTreeNode java.util.List : void</tspan><tspan x="5561" dy="12">+ isEmpty : boolean</tspan><tspan x="5561" dy="12">+ auxiliaryFindgenerictree.GenericTreeNode generictree.GenericTreeNode : generictree.GenericTreeNode</tspan><tspan x="5561" dy="12">+ buildgenerictree.GenericTreeNode generictree.GenericTreeTraversalOrderEnum : java.util.List</tspan><tspan x="5561" dy="12">+ getNumberOfNodes : int</tspan><tspan x="5561" dy="12">+ buildWithDepthgenerictree.GenericTreeTraversalOrderEnum : java.util.Map</tspan><tspan x="5561" dy="12">+ existsgenerictree.GenericTreeNode : boolean</tspan><tspan x="5561" dy="12">+ equalsjava.lang.Object : boolean</tspan><tspan x="5561" dy="12">+ buildPostOrdergenerictree.GenericTreeNode java.util.List : void</tspan><tspan x="5561" dy="12">+ buildPreOrderWithDepthgenerictree.GenericTreeNode java.util.Map int : void</tspan><tspan x="5561" dy="12">+ auxiliaryGetNumberOfNodesgenerictree.GenericTreeNode : int</tspan><tspan x="5561" dy="12">+ iterator : java.util.Iterator</tspan></text>
</g>
<g id="GenericTreeNode" class="n r">
<rect x="6026" y="1079" width="290" height="270"/><line x1="6026" y1="1113" x2="6316" y2="1113"/><line x1="6026" y1="1147" x2="6316" y2="1147"/>
<text class="c" x="6171" y="1093">GenericTreeNode<tspan x="6171" dy="12">&lt;&lt;Adaptee&gt;&gt;</tspan></text>
<text x="6035" y="1127">+data : java.lang.Object<tspan x="6035" dy="12">+children : java.util.List</tspan></text>
<text x="6035" y="1161">+ removeChildren : void<tspan x="6035" dy="12">+ getNumberOfChildren : int</tspan><tspan x="6035" dy="12">+ getChildren : java.util.List</tspan><tspan x="6035" dy="12">+ hashCode : int</tspan><tspan x="6035" dy="12">+ removeChildAtint : void</tspan><tspan x="6035" dy="12">+ toString : java.lang.String</tspan><tspan x="6035" dy="12">+ setChildrenjava.util.List : void</tspan><tspan x="6035" dy="12">+ setDatajava.lang.Object : void</tspan><tspan x="6035" dy="12">+ toStringVerbose : java.lang.String</tspan><tspan x="6035" dy="12">+ getChildAtint : generictree.GenericTreeNode</tspan><tspan x="6035" dy="12">+ getData : java.lang.Object</tspan><tspan x="6035" dy="12">+ equalsjava.lang.Object : boolean</tspan><tspan x="6035" dy="12">+ addChildAtint generictree.GenericTreeNode : void</tspan><tspan x="6035" dy="12">+ hasChildren : boolean</tspan><tspan x="6035" dy="12">+ addChildgenerictree.GenericTreeNode : void</tspan><tspan x="6035" dy="12">+ equalsgenerictree.GenericTreeNode : boolean</tspan></text>
</g>
</svg>
